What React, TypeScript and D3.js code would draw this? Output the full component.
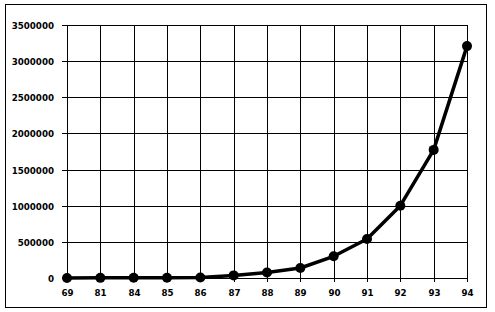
import React from "react";
import * as d3 from "d3";

const categories = ["69", "81", "84", "85", "86", "87", "88", "89", "90", "91", "92", "93", "94"];
const values = [1000, 2000, 3000, 4000, 8000, 36000, 77000, 138000, 300000, 539000, 1000000, 1772000, 3208000];
const yTicks = [0, 500000, 1000000, 1500000, 2000000, 2500000, 3000000, 3500000];

const W = 495;
const H = 312;
const left = 67;
const right = 467;
const top = 25;
const bottom = 278;

export default function App() {
  const x = d3.scalePoint<string>().domain(categories).range([left, right]);
  const y = d3.scaleLinear().domain([0, 3500000]).range([bottom, top]);
  const line = d3
    .line<number>()
    .x((_, i) => x(categories[i]) as number)
    .y((d) => y(d));
  const font = "'DejaVu Sans', Verdana, sans-serif";
  return (
    <svg width={W} height={H} style={{ position: "absolute", left: 0, top: 0, background: "#fff" }}>
      <rect x={5.5} y={4.5} width={481} height={303} fill="#fff" stroke="#000" strokeWidth={1} />
      {yTicks.map((t) => (
        <g key={t}>
          <line x1={left - 5} x2={right} y1={Math.round(y(t)) + 0.5} y2={Math.round(y(t)) + 0.5} stroke="#000" strokeWidth={1} />
          <text
            x={54}
            y={Math.round(y(t)) + 0.5}
            textAnchor="end"
            dominantBaseline="central"
            fontFamily={font}
            fontWeight="bold"
            fontSize={8.7}
            fill="#000"
          >
            {t}
          </text>
        </g>
      ))}
      {categories.map((c) => {
        const cx = Math.round(x(c) as number) + 0.5;
        return (
          <g key={c}>
            <line x1={cx} x2={cx} y1={top} y2={bottom + 4} stroke="#000" strokeWidth={1} />
            <text
              x={cx}
              y={296}
              textAnchor="middle"
              fontFamily={font}
              fontWeight="bold"
              fontSize={8.7}
              fill="#000"
            >
              {c}
            </text>
          </g>
        );
      })}
      <path d={line(values) || ""} fill="none" stroke="#000" strokeWidth={3.5} strokeLinejoin="round" />
      {values.map((v, i) => (
        <circle key={i} cx={x(categories[i]) as number} cy={y(v)} r={5} fill="#000" />
      ))}
    </svg>
  );
}
